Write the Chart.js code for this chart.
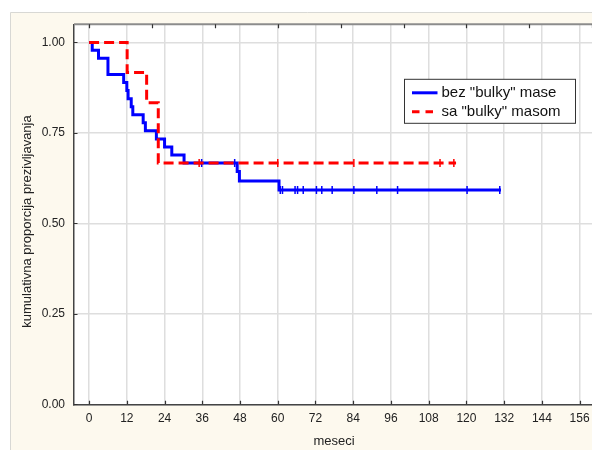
<!DOCTYPE html>
<html>
<head>
<meta charset="utf-8">
<script src="https://cdn.jsdelivr.net/npm/chart.js@4/dist/chart.umd.min.js"></script>
<style>
  html, body { margin: 0; padding: 0; background: #fff; overflow: hidden; width: 592px; height: 450px; }
  canvas { position: absolute; left: 0; top: 0; }
</style>
</head>
<body>
<canvas id="km" width="604" height="450"></canvas>
<script>
// Kaplan–Meier curves: times of events (months) and cumulative survival after each event
const groupNames = ['bez "bulky" mase', 'sa "bulky" masom'];

const bezTimes    = [0, 1, 3, 6, 11, 12, 12.4, 13.4, 13.9, 17.2, 17.9, 21.4, 24.0, 26.3, 30.2, 47.1, 47.8, 60.4];
const bezSurv     = [1, 0.978, 0.956, 0.911, 0.889, 0.867, 0.844, 0.822, 0.800, 0.778, 0.756, 0.733, 0.711, 0.689, 0.667, 0.643, 0.617, 0.592];
const bezCensored = [35.8, 46.3, 60.8, 61.5, 65.5, 66.3, 68.1, 72.3, 74.0, 77.3, 84.2, 91.5, 98.1, 120.2, 130.6];
const bezLast     = 131;

const saTimes     = [0, 12.1, 18.3, 22.0];
const saSurv      = [1, 0.917, 0.833, 0.667];
const saCensored  = [35.0, 60.0, 84.2, 111.6, 116.0];
const saLast      = 116.7;

const xTickValues   = [0, 12, 24, 36, 48, 60, 72, 84, 96, 108, 120, 132, 144, 156];
const topTickValues = [0, 20, 40, 60, 80, 100, 120, 140, 160];
const yTickValues   = [0, 0.25, 0.5, 0.75, 1.0];

const xTitle = 'meseci';
const yTitle = 'kumulativna proporcija prezivljavanja';

const FONT = '"Liberation Sans", Arial, sans-serif';
const BLUE = '#0000ff';
const RED = '#ff0000';

function stepSeries(times, surv, last) {
  const pts = times.map((t, i) => ({ x: t, y: surv[i] }));
  pts.push({ x: last, y: surv[surv.length - 1] });
  return pts;
}
function survivalAt(times, surv, t) {
  let s = surv[0];
  for (let i = 0; i < times.length; i++) if (times[i] <= t) s = surv[i];
  return s;
}
function censorSeries(censored, times, surv) {
  return censored.map(t => ({ x: t, y: survivalAt(times, surv, t) }));
}

// panel background, plot frame, inward tick marks, axis titles and the legend box
const framePlugin = {
  id: 'frame',
  beforeDraw(chart) {
    const { ctx, width, height, chartArea: a } = chart;
    ctx.save();
    ctx.fillStyle = '#ffffff';
    ctx.fillRect(0, 0, width, height);
    ctx.fillStyle = '#fdf9ee';
    ctx.fillRect(10, 12.5, width - 10, height - 12.5);
    ctx.strokeStyle = '#d8d8d4';
    ctx.lineWidth = 1;
    ctx.beginPath();
    ctx.moveTo(10.5, height);
    ctx.lineTo(10.5, 12.5);
    ctx.lineTo(width, 12.5);
    ctx.stroke();
    ctx.fillStyle = '#ffffff';
    ctx.fillRect(a.left, a.top, a.right - a.left, a.bottom - a.top);
    ctx.restore();
  },
  afterDraw(chart) {
    const { ctx, chartArea: a, scales } = chart;
    const xs = scales.x, ys = scales.y;
    ctx.save();
    // top frame line
    ctx.strokeStyle = '#8c8c8c';
    ctx.lineWidth = 2;
    ctx.beginPath();
    ctx.moveTo(a.left, a.top);
    ctx.lineTo(a.right, a.top);
    ctx.stroke();
    // inward ticks
    ctx.strokeStyle = '#333';
    ctx.lineWidth = 1.2;
    ctx.beginPath();
    xTickValues.forEach(v => {
      const px = Math.round(xs.getPixelForValue(v)) + 0.5;
      ctx.moveTo(px, a.bottom); ctx.lineTo(px, a.bottom - 3.5);
    });
    topTickValues.forEach(v => {
      const px = Math.round(xs.getPixelForValue(v)) + 0.5;
      ctx.moveTo(px, a.top); ctx.lineTo(px, a.top + 4);
    });
    yTickValues.forEach(v => {
      const py = Math.round(ys.getPixelForValue(v)) + 0.5;
      ctx.moveTo(a.left, py); ctx.lineTo(a.left + 3.5, py);
    });
    ctx.stroke();

    // axis titles
    ctx.fillStyle = '#222';
    ctx.font = '13px ' + FONT;
    ctx.textAlign = 'center';
    ctx.textBaseline = 'middle';
    ctx.fillText(xTitle, 334, 441);
    ctx.save();
    ctx.translate(27.5, 221.5);
    ctx.rotate(-Math.PI / 2);
    ctx.fillText(yTitle, 0, 0);
    ctx.restore();

    // legend
    const lx = a.left + 330.5, ly = a.top + 55;
    const lw = 171, lh = 44;
    ctx.fillStyle = '#ffffff';
    ctx.fillRect(lx, ly, lw, lh);
    ctx.strokeStyle = '#333';
    ctx.lineWidth = 1;
    ctx.strokeRect(lx, ly, lw, lh);
    const rows = [
      { ds: chart.data.datasets[0], y: ly + 13.5 },
      { ds: chart.data.datasets[1], y: ly + 32.5 }
    ];
    rows.forEach(r => {
      ctx.strokeStyle = r.ds.borderColor;
      ctx.lineWidth = 3;
      ctx.setLineDash(r.ds.borderDash && r.ds.borderDash.length ? [7.5, 6] : []);
      ctx.beginPath();
      ctx.moveTo(lx + 7.5, r.y);
      ctx.lineTo(lx + 33, r.y);
      ctx.stroke();
      ctx.setLineDash([]);
      ctx.fillStyle = '#111';
      ctx.font = '15px ' + FONT;
      ctx.textAlign = 'left';
      ctx.textBaseline = 'middle';
      ctx.fillText(r.ds.label, lx + 37, r.y + 0.5);
    });
    ctx.restore();
  }
};

new Chart(document.getElementById('km'), {
  type: 'line',
  data: {
    datasets: [
      {
        label: groupNames[0],
        data: stepSeries(bezTimes, bezSurv, bezLast),
        borderColor: BLUE, borderWidth: 3, stepped: 'before',
        pointRadius: 0, fill: false, order: 3
      },
      {
        label: groupNames[1],
        data: stepSeries(saTimes, saSurv, saLast),
        borderColor: RED, borderWidth: 3, borderDash: [10, 5], stepped: 'before',
        pointRadius: 0, fill: false, order: 1
      },
      {
        label: groupNames[0] + ' (cenzurisani)',
        data: censorSeries(bezCensored, bezTimes, bezSurv),
        showLine: false, pointStyle: 'line', rotation: 90, pointRadius: 4,
        pointBorderColor: BLUE, pointBorderWidth: 1.5, borderColor: BLUE, order: 2
      },
      {
        label: groupNames[1] + ' (cenzurisani)',
        data: censorSeries(saCensored, saTimes, saSurv),
        showLine: false, pointStyle: 'line', rotation: 90, pointRadius: 4,
        pointBorderColor: RED, pointBorderWidth: 1.5, borderColor: RED, order: 0
      }
    ]
  },
  options: {
    responsive: false,
    animation: false,
    events: [],
    layout: { padding: { left: 0, right: 1.7, top: 24.3, bottom: 0 } },
    plugins: { legend: { display: false }, tooltip: { enabled: false } },
    scales: {
      x: {
        type: 'linear',
        min: -4.8, max: 162,
        afterBuildTicks: s => { s.ticks = xTickValues.map(v => ({ value: v })); },
        afterFit: s => { s.height = 45.7; },
        ticks: {
          autoSkip: false, maxRotation: 0, padding: 7.5,
          color: '#222', font: { family: FONT, size: 12 },
          callback: v => String(v)
        },
        grid: { color: '#dedede', lineWidth: 1.5, drawTicks: false },
        border: { color: '#444', width: 1.5 }
      },
      y: {
        type: 'linear',
        min: 0, max: 1.05,
        afterBuildTicks: s => { s.ticks = yTickValues.map(v => ({ value: v })); },
        afterFit: s => { s.width = 74; },
        ticks: {
          padding: 9,
          color: '#222', font: { family: FONT, size: 12 },
          callback: v => Number(v).toFixed(2)
        },
        grid: { color: '#dedede', lineWidth: 1.5, drawTicks: false },
        border: { color: '#444', width: 1.5 }
      }
    }
  },
  plugins: [framePlugin]
});
</script>
</body>
</html>
